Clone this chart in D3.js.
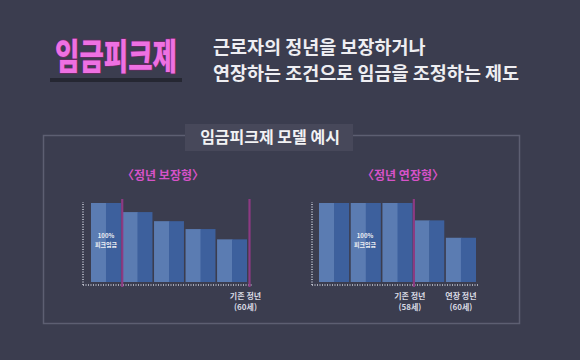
<!DOCTYPE html>
<html><head><meta charset="utf-8">
<script src="https://cdn.jsdelivr.net/npm/d3@7/dist/d3.min.js"></script>
<style>
html,body{margin:0;padding:0;background:#3c3e50;}
svg{display:block;}
text{font-family:"Noto Sans CJK KR","Noto Sans",sans-serif;}
</style></head>
<body>
<svg id="c" width="580" height="360"></svg>
<script>
// ---- data ----
const headline = "임금피크제";
const subLines = ["근로자의 정년을 보장하거나", "연장하는 조건으로 임금을 조정하는 제도"];
const panelTitle = "임금피크제 모델 예시";

const leftTitle = "〈정년 보장형〉";
const leftCats = ["y1", "y2", "y3", "y4", "y5"];
const leftValues = [100, 88.5, 77, 67, 54];
const leftMarkers = [{after: 0, label: null}, {after: 4, label: ["기존 정년", "(60세)"]}];

const rightTitle = "〈정년 연장형〉";
const rightCats = ["y1", "y2", "y3", "y4", "y5"];
const rightValues = [100, 100, 100, 78, 56];
const rightMarkers = [{after: 2, label: ["기존 정년", "(58세)"]}, {after: 4, label: ["연장 정년", "(60세)"], noLine: true}];

const barLabel = ["100%", "피크임금"];

// ---- drawing ----
const svg = d3.select("#c");
svg.append("rect").attr("width", 580).attr("height", 360).attr("fill", "#3b3d4f");

// headline
svg.append("rect").attr("x", 50).attr("y", 78).attr("width", 132).attr("height", 4)
  .attr("fill", "#24252f").attr("opacity", 0.9);
svg.append("text").attr("x", 55).attr("y", 70)
  .attr("font-size", 36).attr("font-weight", 900)
  .attr("textLength", 122).attr("lengthAdjust", "spacingAndGlyphs")
  .attr("fill", "#ee70e2").attr("stroke", "#6a2a62").attr("stroke-width", 1.5)
  .attr("paint-order", "stroke")
  .text(headline);

svg.selectAll(".sub").data(subLines).enter().append("text")
  .attr("x", 213).attr("y", (d, i) => 54 + i * 26)
  .attr("font-size", 18.5).attr("font-weight", 600).attr("fill", "#eeeef2")
  .text(d => d);

// panel frame
svg.append("rect").attr("x", 43.5).attr("y", 135.5).attr("width", 476).attr("height", 188)
  .attr("fill", "none").attr("stroke", "#5d5f72").attr("stroke-width", 1.5);
svg.append("rect").attr("x", 185).attr("y", 124).attr("width", 168).attr("height", 27)
  .attr("fill", "#47485a");
svg.append("text").attr("x", 270).attr("y", 143).attr("text-anchor", "middle")
  .attr("font-size", 16).attr("font-weight", 700).attr("fill", "#f2f2f4")
  .text(panelTitle);

function drawChart(cfg) {
  const g = svg.append("g");
  const x = d3.scaleBand().domain(cfg.cats).range(cfg.xr).paddingInner(0.05);
  const y = d3.scaleLinear().domain([0, 100]).range([282, 203]);
  const bw = x.bandwidth();

  // title
  g.append("text").attr("x", cfg.titleX).attr("y", 180).attr("text-anchor", "middle")
    .attr("font-size", 12).attr("font-weight", 700).attr("fill", "#d652c8")
    .text(cfg.title);

  // bars
  const bars = g.selectAll(".bar").data(cfg.values).enter().append("g");
  bars.append("rect")
    .attr("x", (d, i) => x(cfg.cats[i])).attr("y", d => y(d))
    .attr("width", bw / 2 + 0.5).attr("height", d => y(0) - y(d))
    .attr("fill", "#5b7cb2");
  bars.append("rect")
    .attr("x", (d, i) => x(cfg.cats[i]) + bw / 2).attr("y", d => y(d))
    .attr("width", bw / 2).attr("height", d => y(0) - y(d))
    .attr("fill", "#3d609d");

  // axes (dotted)
  const axisY = y(0) + 3;
  const yAxis = d3.axisLeft(y).tickValues([]).tickSizeOuter(0);
  const ya = g.append("g").attr("transform", `translate(${cfg.axisX},0)`).call(yAxis);
  ya.select(".domain").attr("d", `M0,${axisY}V${y(100) - 1}`)
    .attr("stroke", "#c8cad6").attr("stroke-width", 1.5).attr("stroke-dasharray", "1,1.5");
  const xa = g.append("g").attr("transform", `translate(0,${axisY})`)
    .call(d3.axisBottom(x).tickValues([]).tickSizeOuter(0));
  xa.select(".domain").attr("d", `M${cfg.axisX},0H${cfg.axisEnd}`)
    .attr("stroke", "#c8cad6").attr("stroke-width", 1.5).attr("stroke-dasharray", "1,1.5");

  // markers
  cfg.markers.forEach(m => {
    const c = cfg.cats[m.after];
    const mx = m.after === cfg.cats.length - 1 ? x(c) + bw + 2.5 : x(c) + bw + x.step() * 0.025 + 0.5;
    if (!m.noLine) {
      g.append("line").attr("x1", mx).attr("x2", mx).attr("y1", 199).attr("y2", axisY + 2)
        .attr("stroke", "#8c3a82").attr("stroke-width", 2.2);
    }
    if (m.label) {
      const cx = m.noLine ? x(c) + bw / 2 : mx - 4;
      g.selectAll(null).data(m.label).enter().append("text")
        .attr("x", cx).attr("y", (d, i) => 299 + i * 11).attr("text-anchor", "middle")
        .attr("font-size", 8).attr("font-weight", 700).attr("fill", "#d8d9e2")
        .text(d => d);
    }
  });

  // bar label
  g.selectAll(".bl").data(barLabel).enter().append("text")
    .attr("x", cfg.labelX).attr("y", (d, i) => 238 + i * 9).attr("text-anchor", "middle")
    .attr("font-size", 6).attr("font-weight", 700).attr("fill", "#f0f0f4")
    .text(d => d);
}

drawChart({title: leftTitle, titleX: 163, cats: leftCats, values: leftValues, markers: leftMarkers,
  xr: [91, 247], axisX: 83, axisEnd: 252, labelX: 106});
drawChart({title: rightTitle, titleX: 403, cats: rightCats, values: rightValues, markers: rightMarkers,
  xr: [319, 476], axisX: 312, axisEnd: 478, labelX: 365});
</script>
</body></html>
